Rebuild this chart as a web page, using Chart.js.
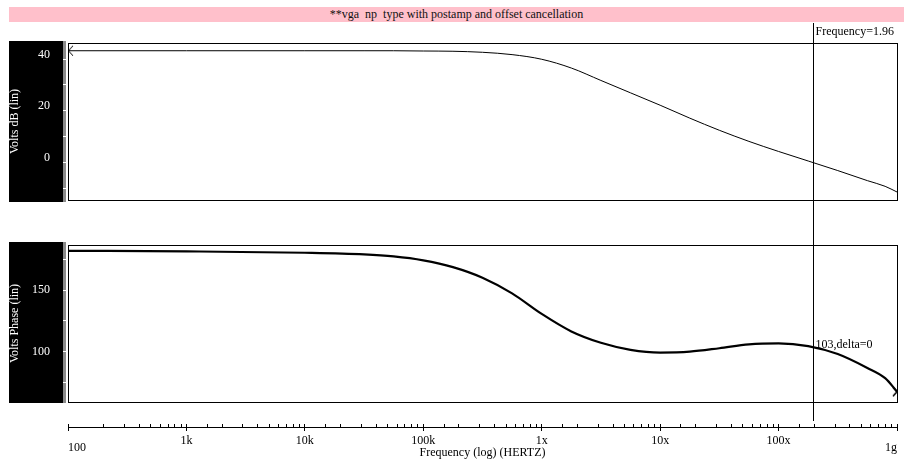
<!DOCTYPE html>
<html lang="en">
<head>
<meta charset="UTF-8">
<title>vga np type - AC response</title>
<script src="https://cdn.jsdelivr.net/npm/chart.js"></script>
<style>
    body {
        margin: 0;
        background: #fff;
        font-family: 'Liberation Serif', serif;
    }
    .wrap {
        position: relative;
        width: 904px;
        height: 463px;
        overflow: hidden;
    }
    .title-bar {
        position: absolute;
        left: 9px;
        top: 7px;
        width: 895px;
        height: 15px;
        background: #ffc0cb;
        color: #111;
        font-size: 12px;
        line-height: 15px;
        text-align: center;
        white-space: pre;
    }
    .axis-box {
        position: absolute;
        left: 9px;
        width: 54px;
        height: 161px;
        background: #000;
        border-right: 3px solid #8a8a8a;
    }
    canvas {
        position: absolute;
        left: 9px;
    }
</style>
</head>
<body>
<div class="wrap">
    <div class="title-bar">**vga  np  type with postamp and offset cancellation</div>
    <div class="axis-box" style="top:41px;"></div>
    <div class="axis-box" style="top:242px;"></div>
    <canvas id="gainChart" width="895" height="199" style="top:23px;"></canvas>
    <canvas id="phaseChart" width="895" height="199" style="top:222px;"></canvas>
    <canvas id="axisChart" width="895" height="42" style="top:421px;"></canvas>
</div>
<script>
    // frequency points (Hz) and the two traces
    const freqs = [100, 1e3, 1e4, 3.16e4, 5.62e4, 1e5, 1.78e5, 3.16e5, 5.62e5, 1e6, 1.78e6, 3.16e6,
                   5.62e6, 1e7, 1.78e7, 3.16e7, 5.62e7, 1e8, 1.78e8, 3.16e8, 5.62e8, 7.94e8, 1e9];
    const gainDb = [43.2, 43.2, 43.2, 43.2, 43.2, 43.1, 43.0, 42.6, 41.7, 39.9, 36.5, 31.7,
                    26.9, 22.1, 17.1, 12.4, 8.1, 4.2, 0.5, -3.2, -7.1, -9.3, -11.5];
    const phaseDeg = [181.8, 181.3, 180.2, 178.9, 177.3, 174.1, 168.6, 160.0, 147.3, 130.6, 116.4, 107.2,
                      101.5, 99.3, 100.0, 102.8, 106.0, 106.8, 104.5, 98.1, 86.8, 78.5, 67.6];

    const freqTickLabels = { 100: '100', 1000: '1k', 10000: '10k', 100000: '100k',
                             1000000: '1x', 10000000: '10x', 100000000: '100x', 1000000000: '1g' };
    const gainLabelTicks = [0, 20, 40];
    const phaseLabelTicks = [100, 150];

    const cursorFreq = 1.96e8;
    const cursorFreqText = 'Frequency=1.96';
    const cursorPhase = 103;
    const cursorPhaseText = '103,delta=0';

    const FONT = "'Liberation Serif', serif";
    Chart.defaults.font.family = FONT;
    Chart.defaults.font.size = 12;

    function isDecade(v) {
        const l = Math.log10(v);
        return Math.abs(l - Math.round(l)) < 1e-9;
    }

    function arrowImage(dir) {
        const c = document.createElement('canvas');
        c.width = 14;
        c.height = 12;
        const g = c.getContext('2d');
        g.strokeStyle = '#000';
        g.lineWidth = dir < 0 ? 1 : 1.6;
        g.beginPath();
        if (dir < 0) {
            g.moveTo(12, 1); g.lineTo(7.5, 6); g.lineTo(12, 11);
        } else {
            g.moveTo(3, 1.5); g.lineTo(7, 6); g.lineTo(3, 10.5);
        }
        g.stroke();
        return c;
    }

    const framePlugin = {
        id: 'frame',
        afterDraw(chart) {
            const a = chart.chartArea;
            const ctx = chart.ctx;
            ctx.save();
            ctx.strokeStyle = '#000';
            ctx.lineWidth = 1;
            ctx.strokeRect(a.left + 0.5, a.top + 0.5, a.right - a.left, a.bottom - a.top);
            ctx.restore();
        }
    };

    const cursorPlugin = {
        id: 'cursor',
        afterDraw(chart, args, opts) {
            const {ctx, chartArea, scales} = chart;
            const x = Math.round(scales.x.getPixelForValue(cursorFreq)) + 0.5;
            ctx.save();
            ctx.strokeStyle = '#000';
            ctx.lineWidth = 1;
            ctx.beginPath();
            ctx.moveTo(x, 0);
            ctx.lineTo(x, chart.height);
            ctx.stroke();
            ctx.font = '12px ' + FONT;
            ctx.fillStyle = '#000';
            ctx.textBaseline = 'middle';
            const y = opts.value != null ? scales.y.getPixelForValue(opts.value) - 3 : chartArea.top - 11;
            ctx.fillText(opts.text, x + 2, y);
            ctx.restore();
        }
    };

    function yAxis(min, max, step, labelTicks, title, lift) {
        return {
            min: min,
            max: max,
            afterFit(scale) { scale.width = 59; },
            border: { display: false },
            grid: {
                drawOnChartArea: false,
                drawTicks: true,
                tickLength: 10,
                tickColor: '#fff',
                tickBorderDash: [5, 5],
                tickBorderDashOffset: 5
            },
            ticks: {
                stepSize: step,
                includeBounds: false,
                padding: 8,
                color: '#fff',
                font: { family: FONT, size: 12, lineHeight: lift ? 0.75 : 1.2 },
                callback: v => labelTicks.includes(v) ? (lift ? [String(v), ''] : String(v)) : ''
            },
            title: {
                display: true,
                text: title,
                color: '#fff',
                padding: { top: 0, bottom: 0 },
                font: { family: FONT, size: 12, lineHeight: 1 }
            }
        };
    }

    function traceChart(id, values, yOpts, width, padTop, padBottom, markerIndex, markerDir, cursorOpts) {
        return new Chart(document.getElementById(id), {
            type: 'line',
            data: {
                datasets: [{
                    data: freqs.map((f, i) => ({ x: f, y: values[i] })),
                    borderColor: '#000',
                    borderWidth: width,
                    cubicInterpolationMode: 'monotone',
                    pointRadius: c => c.dataIndex === markerIndex ? 4 : 0,
                    pointStyle: arrowImage(markerDir),
                    clip: false
                }]
            },
            options: {
                responsive: false,
                animation: false,
                layout: { padding: { left: 0, right: 7, top: padTop, bottom: padBottom } },
                plugins: {
                    legend: { display: false },
                    tooltip: { enabled: false },
                    cursor: cursorOpts
                },
                scales: {
                    x: { type: 'logarithmic', min: 100, max: 1e9, display: false },
                    y: yOpts
                }
            },
            plugins: [framePlugin, cursorPlugin]
        });
    }

    traceChart('gainChart', gainDb, yAxis(-14.6, 46.2, 10, gainLabelTicks, 'Volts dB (lin)', true),
        1, 20, 22, 0, -1, { text: cursorFreqText });
    traceChart('phaseChart', phaseDeg, yAxis(59.2, 186.5, 25, phaseLabelTicks, 'Volts Phase (lin)', false),
        2.2, 23, 19, freqs.length - 1, 1, { text: cursorPhaseText, value: cursorPhase });

    // shared frequency axis under the two panels
    new Chart(document.getElementById('axisChart'), {
        type: 'line',
        data: { datasets: [] },
        options: {
            responsive: false,
            animation: false,
            layout: { padding: { left: 59, right: 7, top: 3, bottom: 0 } },
            plugins: { legend: { display: false }, tooltip: { enabled: false } },
            scales: {
                x: {
                    type: 'logarithmic',
                    min: 100,
                    max: 1e9,
                    position: 'bottom',
                    afterFit(scale) { scale.height = 36; },
                    border: { display: true, color: '#000', width: 1 },
                    grid: {
                        drawOnChartArea: true,
                        drawTicks: true,
                        tickLength: 4,
                        color: '#000',
                        tickColor: c => isDecade(c.tick.value) ? '#000' : 'rgba(0,0,0,0)'
                    },
                    ticks: {
                        autoSkip: false,
                        maxRotation: 0,
                        align: 'inner',
                        padding: 3,
                        color: '#000',
                        font: c => {
                            const edge = c.tick && (c.tick.value === 100 || c.tick.value === 1e9);
                            return { family: FONT, size: 12, lineHeight: edge ? 0.78 : 1.2 };
                        },
                        callback: v => {
                            const t = freqTickLabels[v];
                            if (!t) return '';
                            return (v === 100 || v === 1e9) ? ['', t] : t;
                        }
                    },
                    title: {
                        display: true,
                        text: 'Frequency (log) (HERTZ)',
                        color: '#000',
                        padding: { top: 0, bottom: 3 },
                        font: { family: FONT, size: 12 }
                    }
                },
                y: { display: false, min: 0, max: 1 }
            }
        }
    });
</script>
</body>
</html>
